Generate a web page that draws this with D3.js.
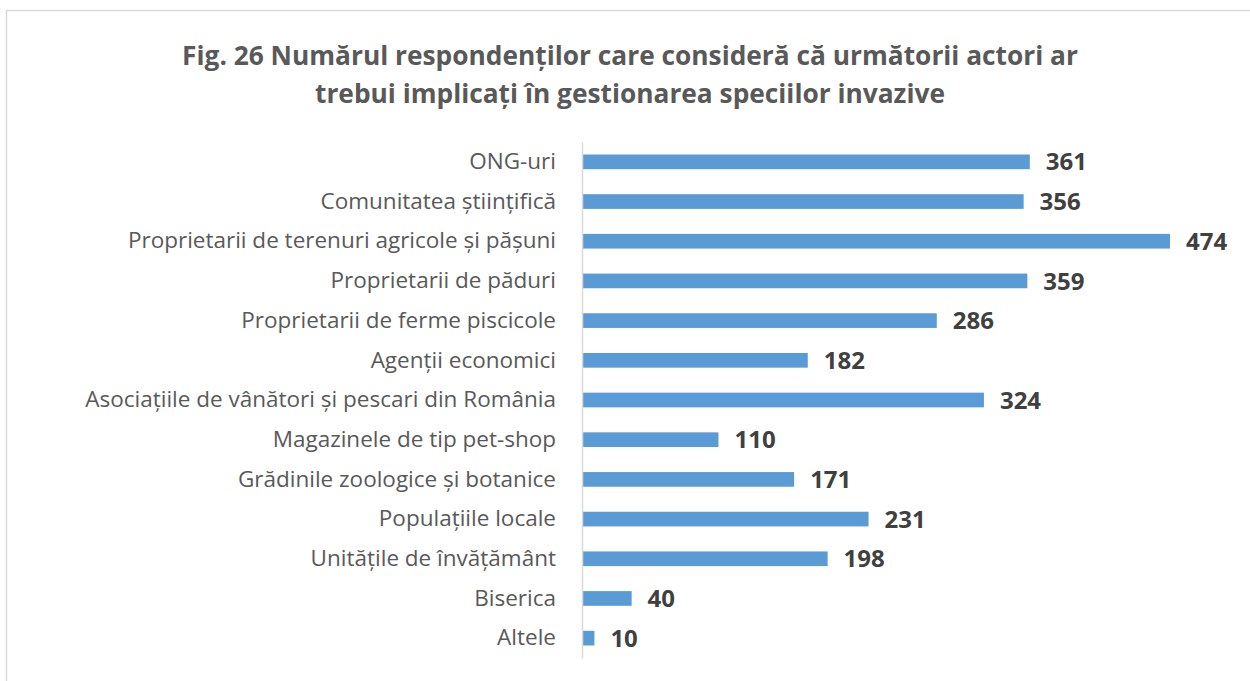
<!DOCTYPE html>
<html>
<head>
<meta charset="utf-8">
<script src="https://cdn.jsdelivr.net/npm/d3@7"></script>
<style>
  body { margin: 0; background: #fff; }
  svg { display: block; font-family: "Open Sans", sans-serif; }
</style>
</head>
<body>
<svg id="chart" width="1250" height="681"></svg>
<script>
const categories = [
  "ONG-uri",
  "Comunitatea științifică",
  "Proprietarii de terenuri agricole și pășuni",
  "Proprietarii de păduri",
  "Proprietarii de ferme piscicole",
  "Agenții economici",
  "Asociațiile de vânători și pescari din România",
  "Magazinele de tip pet-shop",
  "Grădinile zoologice și botanice",
  "Populațiile locale",
  "Unitățile de învățământ",
  "Biserica",
  "Altele"
];
const values = [361, 356, 474, 359, 286, 182, 324, 110, 171, 231, 198, 40, 10];
const titleLines = [
  "Fig. 26 Numărul respondenților care consideră că următorii actori ar",
  "trebui implicați în gestionarea speciilor invazive"
];

const svg = d3.select("#chart");

// chart frame
svg.append("rect")
  .attr("x", 6.5).attr("y", 10.5)
  .attr("width", 1250).attr("height", 700)
  .attr("fill", "none").attr("stroke", "#d9d9d9").attr("stroke-width", 1.5);

svg.selectAll("text.title")
  .data(titleLines)
  .enter().append("text")
  .attr("class", "title")
  .attr("x", 630)
  .attr("y", (d, i) => 65 + i * 38)
  .attr("text-anchor", "middle")
  .attr("font-size", 26.3)
  .attr("font-weight", "bold")
  .attr("fill", "#595959")
  .text(d => d);

const x0 = 582;
const x = d3.scaleLinear().domain([0, 474]).range([x0, 1170]);
const y = d3.scaleBand().domain(categories).range([142, 658]).paddingInner(0.63).paddingOuter(0.315);

svg.selectAll("rect.bar")
  .data(values)
  .enter().append("rect")
  .attr("class", "bar")
  .attr("x", x0)
  .attr("y", (d, i) => y(categories[i]))
  .attr("width", d => x(d) - x0)
  .attr("height", y.bandwidth())
  .attr("fill", "#5b9bd5");

svg.selectAll("text.val")
  .data(values)
  .enter().append("text")
  .attr("class", "val")
  .attr("x", d => x(d) + 16)
  .attr("y", (d, i) => y(categories[i]) + y.bandwidth() / 2)
  .attr("dy", "0.36em")
  .attr("font-size", 24)
  .attr("font-weight", "bold")
  .attr("fill", "#404040")
  .text(d => d);

const yAxis = d3.axisLeft(y).tickSize(0).tickPadding(26);
const ax = svg.append("g").attr("transform", `translate(${x0},0)`).call(yAxis);
ax.select(".domain").attr("stroke", "#d9d9d9").attr("stroke-width", 1.5);
ax.selectAll("text")
  .attr("font-size", 22.5)
  .attr("font-family", "'Open Sans', sans-serif")
  .attr("fill", "#595959");
</script>
</body>
</html>
